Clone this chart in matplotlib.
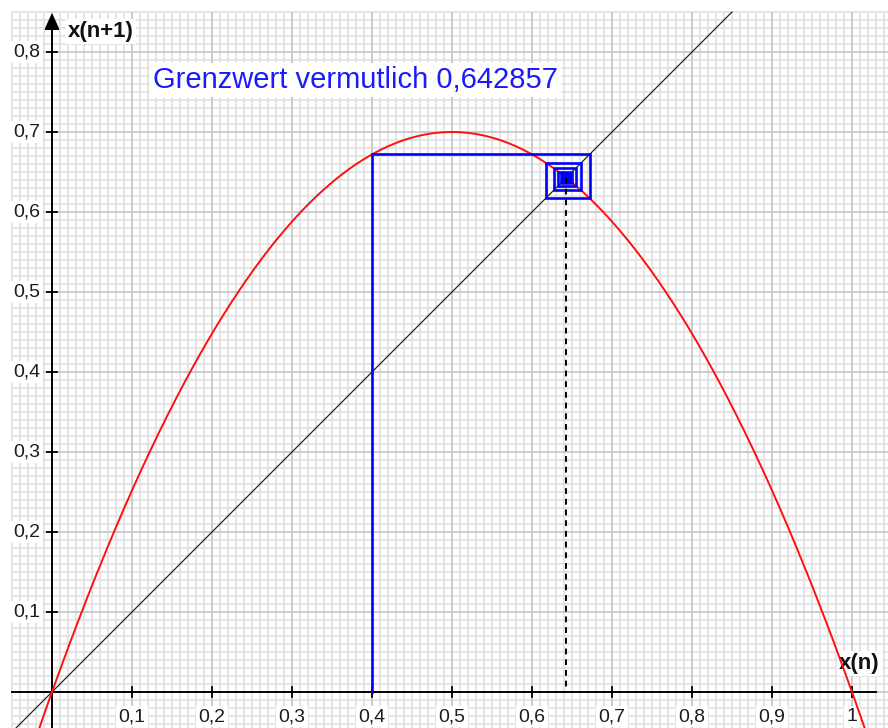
import numpy as np
import matplotlib
matplotlib.use("Agg")
import matplotlib.pyplot as plt

plt.rcParams['font.family'] = ['Liberation Sans', 'DejaVu Sans']

# Logistic map parameters
r = 2.8
x_start = 0.4
n_iter = 80
limit_text = "Grenzwert vermutlich 0,642857"

x_ticks = [0.1, 0.2, 0.3, 0.4, 0.5, 0.6, 0.7, 0.8, 0.9, 1.0]
x_tick_labels = ["0,1", "0,2", "0,3", "0,4", "0,5", "0,6", "0,7", "0,8", "0,9", "1"]
y_ticks = [0.1, 0.2, 0.3, 0.4, 0.5, 0.6, 0.7, 0.8]
y_tick_labels = ["0,1", "0,2", "0,3", "0,4", "0,5", "0,6", "0,7", "0,8"]

XMIN, XMAX = -0.065, 1.045
YMIN, YMAX = -0.045, 0.865
GX0, GY1 = -0.05, 0.85  # extent of the grid paper


def f(x):
    return r * x * (1 - x)


fig = plt.figure(figsize=(8.88, 7.28), dpi=100)
ax = fig.add_axes([0, 0, 1, 1])
ax.set_xlim(XMIN, XMAX)
ax.set_ylim(YMIN, YMAX)
ax.axis('off')

# grid paper
minor = np.round(np.arange(-0.05, 1.05, 0.01), 4)
for v in minor:
    major = abs(v * 10 - round(v * 10)) < 1e-6
    col = '#c4c4c4' if major else '#e0e0e0'
    z = 0.2 if major else 0.1
    if v >= GX0 - 1e-9:
        ax.plot([v, v], [YMIN, GY1], color=col, lw=1.2, zorder=z, solid_capstyle='butt')
    if YMIN <= v <= GY1 + 1e-9:
        ax.plot([GX0, XMAX], [v, v], color=col, lw=1.2, zorder=z, solid_capstyle='butt')

# axes with arrows
ax.plot([GX0, XMAX - 0.015], [0, 0], color='black', lw=1.4, zorder=3)
ax.plot([0, 0], [YMIN, GY1 - 0.015], color='black', lw=1.4, zorder=3)
ax.annotate('', xy=(XMAX + 0.002, 0), xytext=(XMAX - 0.03, 0),
            arrowprops=dict(arrowstyle='-|>,head_length=1.0,head_width=0.45',
                            color='black', lw=1.4, shrinkA=0, shrinkB=0), zorder=3)
ax.annotate('', xy=(0, GY1 - 0.001), xytext=(0, GY1 - 0.03),
            arrowprops=dict(arrowstyle='-|>,head_length=1.0,head_width=0.45',
                            color='black', lw=1.4, shrinkA=0, shrinkB=0), zorder=3)

tick_half = 0.00625
label_box = dict(facecolor='white', edgecolor='none', pad=1.5)
for t, lab in zip(x_ticks, x_tick_labels):
    ax.plot([t, t], [-tick_half, tick_half], color='black', lw=1.3, zorder=3)
    ax.text(t, -0.031, lab, ha='center', va='center', fontsize=14,
            color='#1c1c1c', bbox=label_box, zorder=4)
for t, lab in zip(y_ticks, y_tick_labels):
    ax.plot([-tick_half, tick_half], [t, t], color='black', lw=1.3, zorder=3)
    ax.text(-0.0145, t, lab, ha='right', va='center', fontsize=14,
            color='#1c1c1c', bbox=label_box, zorder=4)

ax.text(0.02, 0.826, 'x(n+1)', ha='left', va='center', fontsize=16,
        fontweight='bold', color='#111111', bbox=label_box, zorder=4)
ax.text(1.009, 0.036, 'x(n)', ha='center', va='center', fontsize=16,
        fontweight='bold', color='#111111', bbox=label_box, zorder=4)

# diagonal y = x
ax.plot([XMIN, GY1], [XMIN, GY1], color='#222222', lw=0.9, zorder=5)

# parabola
xs = np.linspace(XMIN, XMAX, 800)
ax.plot(xs, f(xs), color='#ff1010', lw=1.4, zorder=5)

# cobweb iteration
px, py = [x_start], [0.0]
x = x_start
for _ in range(n_iter):
    y = f(x)
    px += [x, y]
    py += [y, y]
    x = y
ax.plot(px, py, color='#0000ff', lw=1.9, zorder=6, solid_joinstyle='miter')

# dashed drop line from the fixed point
p = 1 - 1 / r
ax.plot([p, p], [p, 0], color='black', lw=1.4, ls=(0, (3, 2.5)), zorder=6)

ax.text(0.126, 0.7645, limit_text, ha='left', va='center', fontsize=21,
        color='#1a1aff', bbox=dict(facecolor='white', edgecolor='none', pad=2), zorder=7)

fig.savefig('out.png', dpi=100)
